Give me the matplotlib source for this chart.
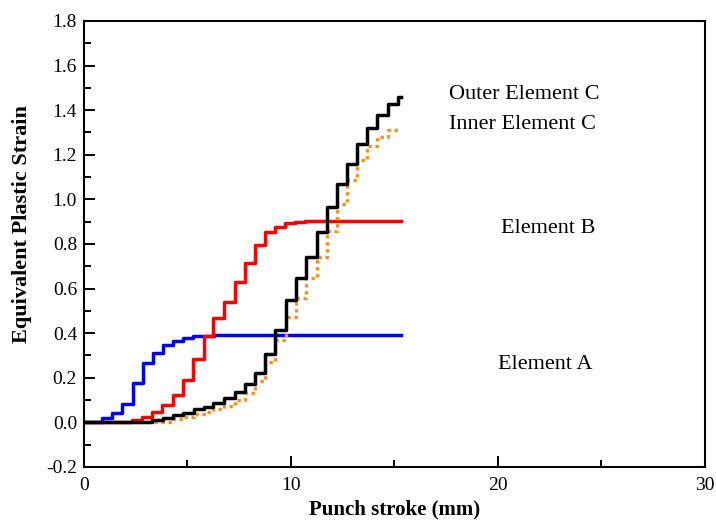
import matplotlib

matplotlib.use("Agg")
import matplotlib.pyplot as plt
from matplotlib.ticker import MultipleLocator, FormatStrFormatter

plt.rcParams.update({"font.family": "Liberation Serif"})

# step data: (punch stroke in mm, equivalent plastic strain)
elem_a_x = [0, 0.3, 0.85, 1.34, 1.82, 2.35, 2.84, 3.32, 3.83, 4.32, 4.8, 5.28, 5.8, 6.3, 15.3]
elem_a_y = [0, 0.003, 0.018, 0.04, 0.082, 0.178, 0.265, 0.312, 0.347, 0.365, 0.38, 0.386,
            0.389, 0.39, 0.39]

elem_b_x = [0, 2.3, 2.79, 3.27, 3.75, 4.28, 4.77, 5.28, 5.8, 6.25, 6.76, 7.29, 7.78, 8.26,
            8.74, 9.23, 9.71, 10.2, 10.7, 15.3]
elem_b_y = [0, 0.01, 0.025, 0.048, 0.078, 0.122, 0.19, 0.282, 0.387, 0.466, 0.541, 0.628,
            0.716, 0.795, 0.852, 0.877, 0.892, 0.897, 0.903, 0.904]

elem_c_x = [0, 3.27, 3.8, 4.3, 4.8, 5.3, 5.8, 6.25, 6.76, 7.29, 7.78, 8.26, 8.74, 9.23, 9.76,
            10.24, 10.72, 11.24, 11.72, 12.21, 12.72, 13.2, 13.69, 14.17, 14.7, 15.18, 15.3]
outer_c_y = [0, 0.01, 0.018, 0.033, 0.043, 0.058, 0.07, 0.088, 0.108, 0.137, 0.17, 0.22, 0.306,
             0.416, 0.547, 0.646, 0.74, 0.855, 0.964, 1.069, 1.158, 1.248, 1.321, 1.378, 1.427,
             1.46, 1.46]
inner_c_y = [0, 0, 0.003, 0.013, 0.025, 0.036, 0.048, 0.058, 0.073, 0.1, 0.133, 0.187, 0.27,
             0.37, 0.471, 0.556, 0.646, 0.743, 0.859, 0.979, 1.087, 1.176, 1.239, 1.281, 1.311,
             1.312, 1.312]

labels = ["Outer Element C", "Inner Element C", "Element B", "Element A"]
label_x = [17.63, 17.63, 20.13, 20.0]
label_y = [1.47, 1.335, 0.87, 0.26]

fig = plt.figure(figsize=(7.16, 5.22), dpi=100)
ax = fig.add_axes([0.1173, 0.1054, 0.8673, 0.8544])

ax.step(elem_a_x, elem_a_y, where="post", color="#0000ff", lw=2.5)
ax.step(elem_b_x, elem_b_y, where="post", color="#ff0000", lw=2.5)
ax.step(elem_c_x, inner_c_y, where="post", color="#ff8c1a", lw=2.4, ls=(0, (1, 1.1)))
ax.step(elem_c_x, outer_c_y, where="post", color="black", lw=2.5)

for t, x, y in zip(labels, label_x, label_y):
    ax.text(x, y, t, fontsize=16, ha="left", va="center")

ax.set_xlim(0, 30)
ax.set_ylim(-0.2, 1.8)
ax.xaxis.set_major_locator(MultipleLocator(10))
ax.xaxis.set_minor_locator(MultipleLocator(5))
ax.yaxis.set_major_locator(MultipleLocator(0.2))
ax.yaxis.set_minor_locator(MultipleLocator(0.1))
ax.yaxis.set_major_formatter(FormatStrFormatter("%.1f"))
ax.tick_params(which="both", direction="in", top=False, right=False, width=1.4,
               labelsize=14)
ax.tick_params(axis="x", pad=7)
ax.tick_params(axis="y", pad=5)
ax.tick_params(which="major", length=8)
ax.tick_params(which="minor", length=5)
for s in ax.spines.values():
    s.set_linewidth(1.5)

ax.set_xlabel("Punch stroke (mm)", fontsize=15, fontweight="bold", labelpad=4)
ax.set_ylabel("Equivalent Plastic Strain", fontsize=16, fontweight="bold")
ax.yaxis.set_label_coords(-0.084, 0.545)

fig.savefig("out.png", dpi=100)
